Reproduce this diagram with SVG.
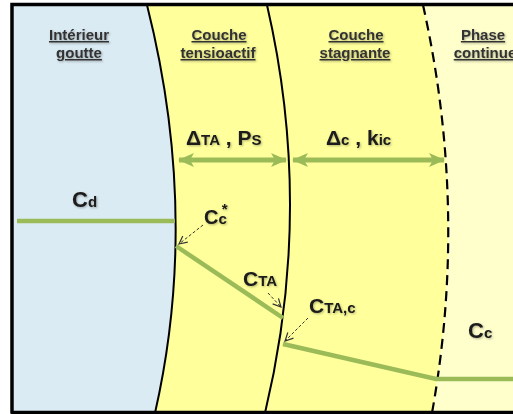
<svg xmlns="http://www.w3.org/2000/svg" width="513" height="414" viewBox="0 0 513 414">
<defs>
<style>
.hdr{font-family:"Liberation Sans",Arial,sans-serif;font-weight:bold;font-size:15px;fill:#333;text-anchor:middle;text-decoration:underline;}
.lbl{font-family:"Liberation Sans",Arial,sans-serif;font-weight:bold;fill:#1a1a1a;}
.big{font-size:21px;}
.sm{font-size:15px;}
.g{stroke:#9BBB59;fill:none;stroke-linecap:butt;}
.da{stroke:#333;stroke-width:1;fill:none;stroke-dasharray:3,2;marker-end:url(#v);}
</style>
<filter id="sh" x="-10%" y="-10%" width="130%" height="130%">
<feDropShadow dx="1" dy="1" stdDeviation="0.8" flood-color="#000" flood-opacity="0.3"/>
</filter>
<marker id="v" viewBox="0 0 10 10" refX="9" refY="5" markerWidth="10" markerHeight="10" markerUnits="userSpaceOnUse" orient="auto">
<path d="M1,1 L9,5 L1,9" fill="none" stroke="#333" stroke-width="1.2"/>
</marker>
<marker id="gh" viewBox="0 0 16 14" refX="15" refY="7" markerWidth="16" markerHeight="14" markerUnits="userSpaceOnUse" orient="auto-start-reverse">
<path d="M0,0 L16,7 L0,14 L4,7 Z" fill="#9BBB59"/>
</marker>
</defs>

<g id="regions">
<path d="M14,5 L147,5 Q200,215 155,413 L14,413 Z" fill="#DBEBF3"/>
<path d="M147,5 L423,5 Q468.5,209 432,413 L155,413 Q200,215 147,5 Z" fill="#FFFF9C"/>
<path d="M423,5 L513,5 L513,413 L432,413 Q468.5,209 423,5 Z" fill="#FFFFCC"/>
</g>

<g id="interfaces">
<path d="M147,5 Q200,215 155,413" fill="none" stroke="#000" stroke-width="2"/>
<path d="M267,5 Q314,209 265,413" fill="none" stroke="#000" stroke-width="2"/>
<path d="M423,5 Q468.5,209 432,413" fill="none" stroke="#000" stroke-width="2.2" stroke-dasharray="10,6"/>
</g>

<g id="frame">
<path d="M12,413 L12,4.5 L513,4.5 M10.5,412.5 L513,412.5" fill="none" stroke="#000" stroke-width="3.5"/>
</g>

<g id="headers" filter="url(#sh)">
<g id="h-interieur"><text class="hdr" x="79" y="40">Intérieur</text><text class="hdr" x="79" y="58">goutte</text></g>
<g id="h-tensio"><text class="hdr" x="219" y="40">Couche</text><text class="hdr" x="218" y="58">tensioactif</text></g>
<g id="h-stag"><text class="hdr" x="356" y="40">Couche</text><text class="hdr" x="355" y="58">stagnante</text></g>
<g id="h-phase"><text class="hdr" x="483" y="40">Phase</text><text class="hdr" x="485" y="58">continue</text></g>
</g>

<g id="connectors">
<line class="g" x1="179" y1="160" x2="286" y2="160" stroke-width="5" marker-start="url(#gh)" marker-end="url(#gh)"/>
<line class="g" x1="293" y1="160" x2="444" y2="160" stroke-width="5" marker-start="url(#gh)" marker-end="url(#gh)"/>
<polyline class="g" points="17,221 175,221" stroke-width="4.5"/>
<polyline class="g" points="176,246 283,318" stroke-width="4.5"/>
<polyline class="g" points="283,344 436,379 513,379" stroke-width="4.5"/>
<line class="da" x1="203" y1="225" x2="179" y2="244"/>
<line class="da" x1="268" y1="293" x2="281" y2="307"/>
<line class="da" x1="308" y1="318" x2="285" y2="341"/>
</g>

<g id="labels" filter="url(#sh)">
<g id="l-ta"><text class="lbl" x="186" y="145"><tspan class="big">Δ</tspan><tspan class="sm">TA</tspan><tspan class="big"> , P</tspan><tspan class="sm">S</tspan></text></g>
<g id="l-c"><text class="lbl" x="326" y="145"><tspan class="big">Δ</tspan><tspan class="sm">c</tspan><tspan class="big">  , k</tspan><tspan class="sm">ic</tspan></text></g>
<g id="l-cd"><text class="lbl" x="72" y="207"><tspan style="font-size:22px">C</tspan><tspan class="sm">d</tspan></text></g>
<g id="l-cstar"><text class="lbl" x="204" y="224"><tspan style="font-size:20px">C</tspan><tspan class="sm">c</tspan><tspan class="sm" dx="-5" dy="-10">*</tspan></text></g>
<g id="l-cta"><text class="lbl" x="243" y="286"><tspan style="font-size:21px">C</tspan><tspan class="sm">TA</tspan></text></g>
<g id="l-ctac"><text class="lbl" x="309" y="313"><tspan style="font-size:21px">C</tspan><tspan class="sm">TA,c</tspan></text></g>
<g id="l-cc"><text class="lbl" x="468" y="338"><tspan style="font-size:22px">C</tspan><tspan class="sm">c</tspan></text></g>
</g>
</svg>
